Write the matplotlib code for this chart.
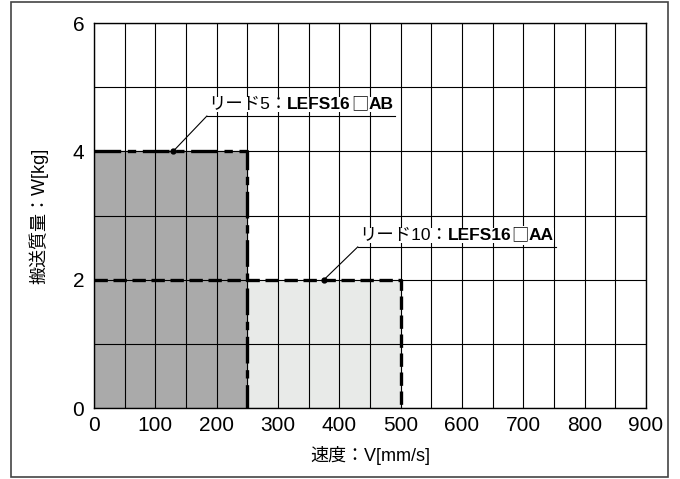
import matplotlib.pyplot as plt
from matplotlib.patches import Rectangle

plt.rcParams['font.family'] = ['Liberation Sans', 'Noto Sans CJK JP']

# lead 5 / lead 10 limits (speed mm/s, load kg)
lead5_speed = [0, 250, 250]
lead5_load = [4, 4, 0]
lead10_speed = [0, 500, 500]
lead10_load = [2, 2, 0]
label5 = ['リード5：', 'LEFS16', '□', 'AB']
label10 = ['リード10：', 'LEFS16', '□', 'AA']
xticks = [0, 100, 200, 300, 400, 500, 600, 700, 800, 900]
yticks = [0, 2, 4, 6]

fig = plt.figure(figsize=(6.8, 4.79), dpi=100)
ax = fig.add_axes([94 / 680, 71 / 479, 552 / 680, 385 / 479])

# outer frame
fig.patches.append(Rectangle((11 / 680, 2 / 479), 657 / 680, 475 / 479,
                             transform=fig.transFigure, fill=False,
                             edgecolor='#444444', linewidth=1.2))

ax.fill_between(lead10_speed[:2], 0, lead10_load[0], color='#e8eae8', zorder=1)
ax.fill_between(lead5_speed[:2], 0, lead5_load[0], color='#aaaaaa', zorder=1)

ax.set_xlim(0, 900)
ax.set_ylim(0, 6)
ax.set_xticks(xticks)
ax.set_xticks(range(50, 900, 100), minor=True)
ax.set_yticks(yticks)
ax.set_yticks([1, 3, 5], minor=True)
ax.grid(True, which='both', color='black', linewidth=0.8, zorder=2)
ax.set_axisbelow(False)
ax.tick_params(which='both', length=0, labelsize=15)
ax.tick_params(axis='x', pad=6)
ax.tick_params(axis='y', pad=7)
for s in ax.spines.values():
    s.set_linewidth(1.0)

ax.plot(lead10_speed, lead10_load, color='black', lw=2.4, dashes=(4, 1.7), zorder=4)
ax.plot(lead5_speed, lead5_load, color='black', lw=2.4, dashes=(8, 2, 2.5, 2), zorder=5)

ax.set_xlabel('速度：V[mm/s]', fontsize=13, labelpad=8)
ax.set_ylabel('搬送質量：W[kg]', fontsize=13, labelpad=17)

fmt = [('normal', ['Liberation Sans', 'Noto Sans CJK JP']),
       ('bold', ['Liberation Sans', 'Noto Sans CJK JP']),
       ('normal', ['Noto Sans CJK JP']),
       ('bold', ['Liberation Sans', 'Noto Sans CJK JP'])]


def callout(dot, start, y_text, parts):
    ax.plot([dot[0], start[0]], [dot[1], start[1]], color='black', lw=0.8, zorder=6)
    ax.plot(*dot, 'o', color='black', ms=3.5, zorder=6)
    x = start[0] + 2
    for s, (w, fam) in zip(parts, fmt):
        t = ax.text(x, y_text, s, fontsize=12.5, fontweight=w, family=fam,
                    va='center', ha='left', zorder=7,
                    bbox=dict(facecolor='white', edgecolor='none', pad=0.3))
        fig.canvas.draw()
        x = ax.transData.inverted().transform((t.get_window_extent().x1, 0))[0]
    ax.plot([start[0], x + 3], [start[1], start[1]], color='black', lw=0.8, zorder=6)


callout((129, 4), (184, 4.55), 4.73, label5)
callout((375, 2), (430, 2.51), 2.69, label10)

fig.savefig('out.png', dpi=100)
